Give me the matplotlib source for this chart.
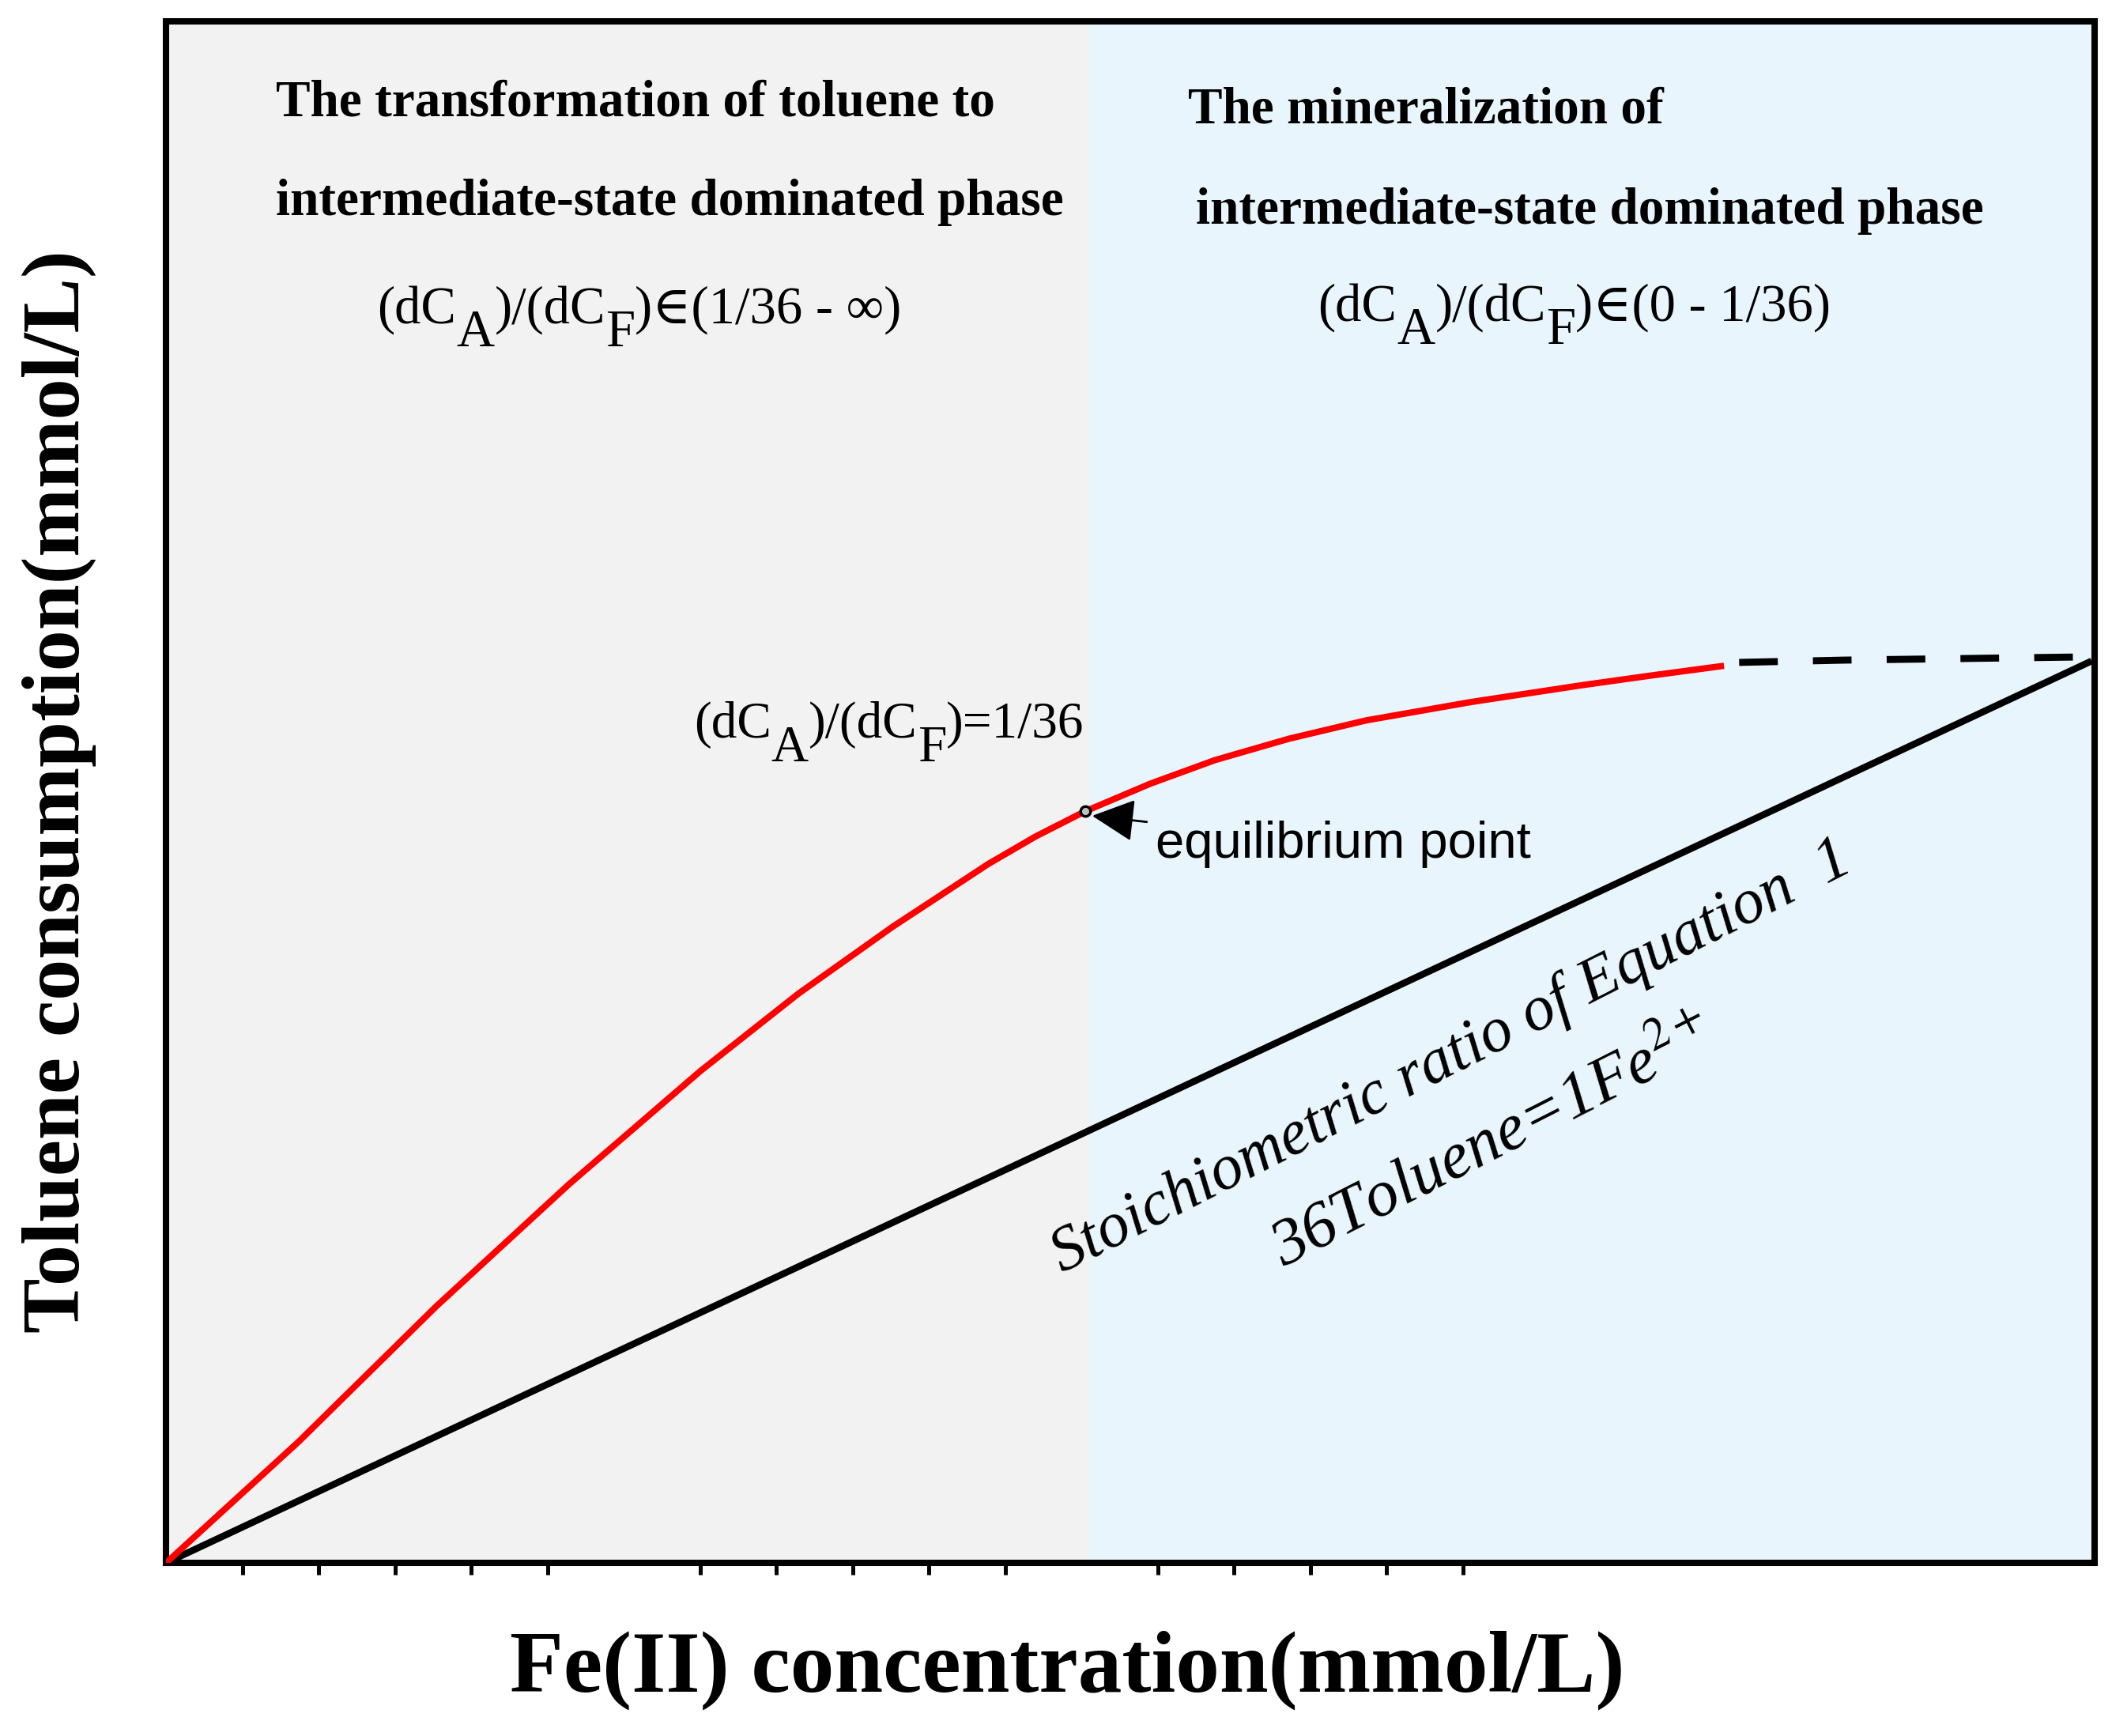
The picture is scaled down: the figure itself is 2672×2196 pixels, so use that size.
import matplotlib.pyplot as plt
from matplotlib import transforms

plt.rcParams['mathtext.fontset'] = 'stix'

# data (arbitrary units, 1 unit = one minor tick step)
red_x = [0, 1.74, 3.54, 5.28, 7.01, 8.29, 9.53, 10.78, 11.4, 12.05, 12.9, 13.75, 14.72, 15.73, 17.1, 18.55, 19.48, 20.38]
red_y = [0, 1.59, 3.36, 4.96, 6.45, 7.46, 8.34, 9.16, 9.52, 9.85, 10.21, 10.52, 10.80, 11.04, 11.28, 11.50, 11.63, 11.75]
dash_x = [20.62, 22.0, 25.0]
dash_y = [11.80, 11.83, 11.87]
stoich_x = [0, 25.2]
stoich_y = [0, 11.8]
eq_x, eq_y = 12.05, 9.85
phase_split = 12.1
tick_pos = [1, 2, 3, 4, 5, 7, 8, 9, 10, 11, 13, 14, 15, 16, 17]

xmax, ymax = 25.28, 20.2
serif = ['Liberation Serif', 'DejaVu Serif']

fig = plt.figure(figsize=(13.36, 10.98), dpi=200)
ax = fig.add_axes([0.0786, 0.0997, 0.9132, 0.888])
renderer = fig.canvas.get_renderer()


def rich(x, y, pieces, size):
    # pieces: (text, vertical shift in pixels); big lowered subscripts like the original
    dx = 0
    for s, dy in pieces:
        tr = transforms.offset_copy(ax.transData, fig=fig, x=dx, y=dy, units='dots')
        t = ax.text(x, y, s, fontsize=size, family=serif, va='baseline', ha='left',
                    transform=tr, zorder=6)
        dx += t.get_window_extent(renderer).width


ax.axvspan(0, phase_split, color='#f2f2f2', lw=0, zorder=0)
ax.axvspan(phase_split, xmax, color='#e9f5fc', lw=0, zorder=0)

ax.plot(stoich_x, stoich_y, color='black', lw=3.1, zorder=3)
ax.plot(red_x, red_y, color='red', lw=2.9, zorder=4)
ax.plot(dash_x, dash_y, color='black', lw=3.2, dashes=(5.5, 5), zorder=4)
ax.plot([eq_x], [eq_y], marker='o', ms=4.5, mfc='#c0c0c0', mec='black', mew=1.2, zorder=5)

ax.annotate('equilibrium point', xy=(12.14, 9.79), xytext=(12.97, 9.42),
            fontsize=23.5, family='Liberation Sans', va='center', ha='left',
            arrowprops=dict(arrowstyle='-|>', color='black', lw=1, mutation_scale=42,
                            shrinkA=2, shrinkB=0))

ax.text(1.44, 19.13, 'The transformation of toluene to', fontsize=23.5, family=serif,
        weight='bold', va='center', ha='left')
ax.text(1.44, 17.83, 'intermediate-state dominated phase', fontsize=23.5, family=serif,
        weight='bold', va='center', ha='left')
ax.text(13.40, 19.03, 'The mineralization of', fontsize=23.5, family=serif,
        weight='bold', va='center', ha='left')
ax.text(13.50, 17.71, 'intermediate-state dominated phase', fontsize=23.5, family=serif,
        weight='bold', va='center', ha='left')

sub = -30
rich(2.77, 16.25, [('(dC', 0), ('A', sub), (')/(dC', 0), ('F', sub),
                   (')\u2208(1/36 - \u221e)', 0)], 24)
rich(15.10, 16.28, [('(dC', 0), ('A', sub), (')/(dC', 0), ('F', sub),
                    (')\u2208(0 - 1/36)', 0)], 24)
rich(6.92, 10.81, [('(dC', 0), ('A', sub), (')/(dC', 0), ('F', sub), (')=1/36', 0)], 23.5)

ax.text(16.85, 6.62, 'Stoichiometric ratio of Equation  1', fontsize=29, family=serif,
        style='italic', rotation=27, rotation_mode='anchor', va='center', ha='center')
ax.text(17.4, 5.50, r'36Toluene=1Fe$^{2+}$', fontsize=30, family=serif,
        style='italic', rotation=27, rotation_mode='anchor', va='center', ha='center')

ax.set_xlim(0, xmax)
ax.set_ylim(0, ymax)
ax.set_xticks(tick_pos)
ax.set_xticklabels([])
ax.set_yticks([])
ax.tick_params(axis='x', direction='out', length=5.4, width=1.8, color='black')
for s in ax.spines.values():
    s.set_linewidth(2.9)
    s.set_color('black')

fig.text(1350 / 2672, 1 - 2113 / 2196, 'Fe(II) concentration(mmol/L)', fontsize=40,
         family=serif, weight='bold', ha='center', va='center')
fig.text(75 / 2672, 1 - 1001 / 2196, 'Toluene consumption(mmol/L)', fontsize=37.5,
         family=serif, weight='bold', ha='center', va='center', rotation=90)

fig.savefig('out.png', dpi=200)
